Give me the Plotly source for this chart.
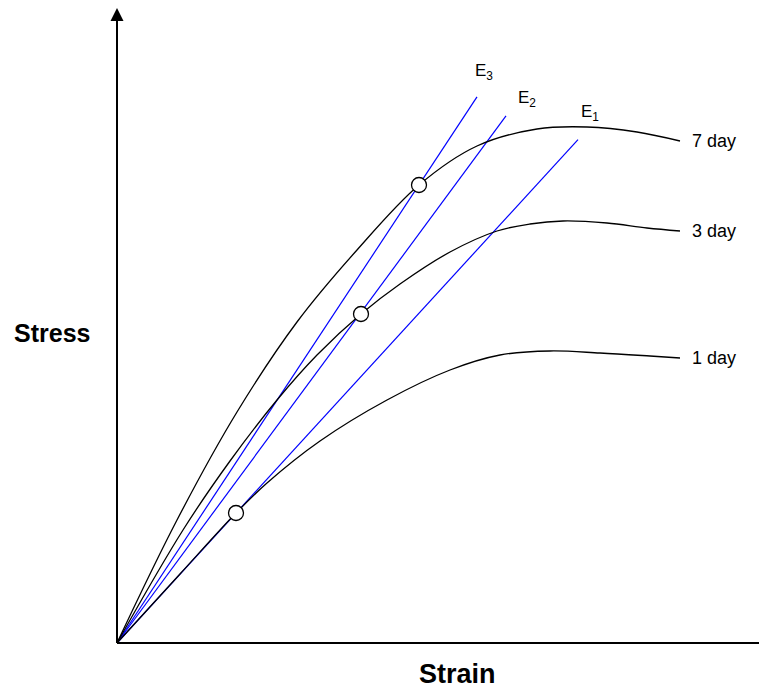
import plotly.graph_objects as go

# Strain / stress readings (arbitrary units, origin at 0,0)
strain_7day = [0, 60, 120, 180, 240, 302, 360, 420, 470, 520, 563]
stress_7day = [0, 123, 231, 321, 393, 458, 497, 514, 516, 511, 502]

strain_3day = [0, 66, 113, 160, 200, 244, 283, 333, 380, 413, 446, 490, 530, 563]
stress_3day = [0, 113, 182, 243, 288, 329, 359, 391, 412, 419, 422, 420, 415, 412]

strain_1day = [0, 63, 119, 150, 203, 270, 333, 383, 433, 483, 533, 563]
stress_1day = [0, 69, 130, 160, 202, 243, 273, 288, 292, 290, 287, 285]

curve_labels = ["7 day", "3 day", "1 day"]

# secant moduli points (marked circles)
mark_strain = [119, 244, 302]
mark_stress = [130, 329, 458]

E_names = ["E<sub>1</sub>", "E<sub>2</sub>", "E<sub>3</sub>"]
E_slope = [1.092, 1.355, 1.517]
E_end = [461, 389, 360]
E_label_x = [473, 410, 367]
E_label_y = [530, 544, 571]

XMIN, XMAX = -117, 642
YMIN, YMAX = -49, 643

FONT = "Arial, Liberation Sans, sans-serif"

fig = go.Figure()

# E lines
for s, xe in zip(E_slope, E_end):
    fig.add_trace(go.Scatter(x=[0, xe], y=[0, s * xe], mode="lines",
                             line=dict(color="#0000ff", width=1.2),
                             hoverinfo="skip", showlegend=False))

# curves
for xs, ys in [(strain_7day, stress_7day), (strain_3day, stress_3day), (strain_1day, stress_1day)]:
    fig.add_trace(go.Scatter(x=xs, y=ys, mode="lines",
                             line=dict(color="black", width=1.3, shape="spline", smoothing=1.0),
                             hoverinfo="skip", showlegend=False))

# markers
fig.add_trace(go.Scatter(x=mark_strain, y=mark_stress, mode="markers",
                         marker=dict(size=15, color="white", line=dict(color="black", width=1.3)),
                         hoverinfo="skip", showlegend=False))

# axes lines
fig.add_shape(type="line", x0=0, y0=0, x1=XMAX, y1=0, line=dict(color="black", width=2))
fig.add_shape(type="line", x0=0, y0=0, x1=0, y1=YMAX - 14, line=dict(color="black", width=2))
fig.add_annotation(x=0, y=YMAX - 8, ax=0, ay=YMAX - 30, axref="x", ayref="y", xref="x", yref="y",
                   showarrow=True, arrowhead=2, arrowsize=1.3, arrowwidth=2, arrowcolor="black", text="")

# day labels
for lbl, xs, ys in zip(curve_labels, [strain_7day, strain_3day, strain_1day],
                       [stress_7day, stress_3day, stress_1day]):
    fig.add_annotation(x=xs[-1] + 10, y=ys[-1], text=lbl, showarrow=False, xanchor="left",
                       yanchor="middle", font=dict(family=FONT, size=18, color="black"))

# E labels
for nm, lx, ly in zip(E_names, E_label_x, E_label_y):
    fig.add_annotation(x=lx, y=ly, text=nm, showarrow=False, xanchor="center", yanchor="middle",
                       font=dict(family=FONT, size=17, color="black"))

# axis titles
fig.add_annotation(x=-65, y=310, text="<b>Stress</b>", showarrow=False, xanchor="center",
                   yanchor="middle", font=dict(family=FONT, size=25, color="black"))
fig.add_annotation(x=340, y=-31, text="<b>Strain</b>", showarrow=False, xanchor="center",
                   yanchor="middle", font=dict(family=FONT, size=27, color="black"))

fig.update_layout(
    width=759, height=692, autosize=False,
    margin=dict(l=0, r=0, t=0, b=0),
    paper_bgcolor="white", plot_bgcolor="white",
    xaxis=dict(range=[XMIN, XMAX], visible=False, fixedrange=True),
    yaxis=dict(range=[YMIN, YMAX], visible=False, fixedrange=True),
    showlegend=False,
)

fig.write_html("out.html")
